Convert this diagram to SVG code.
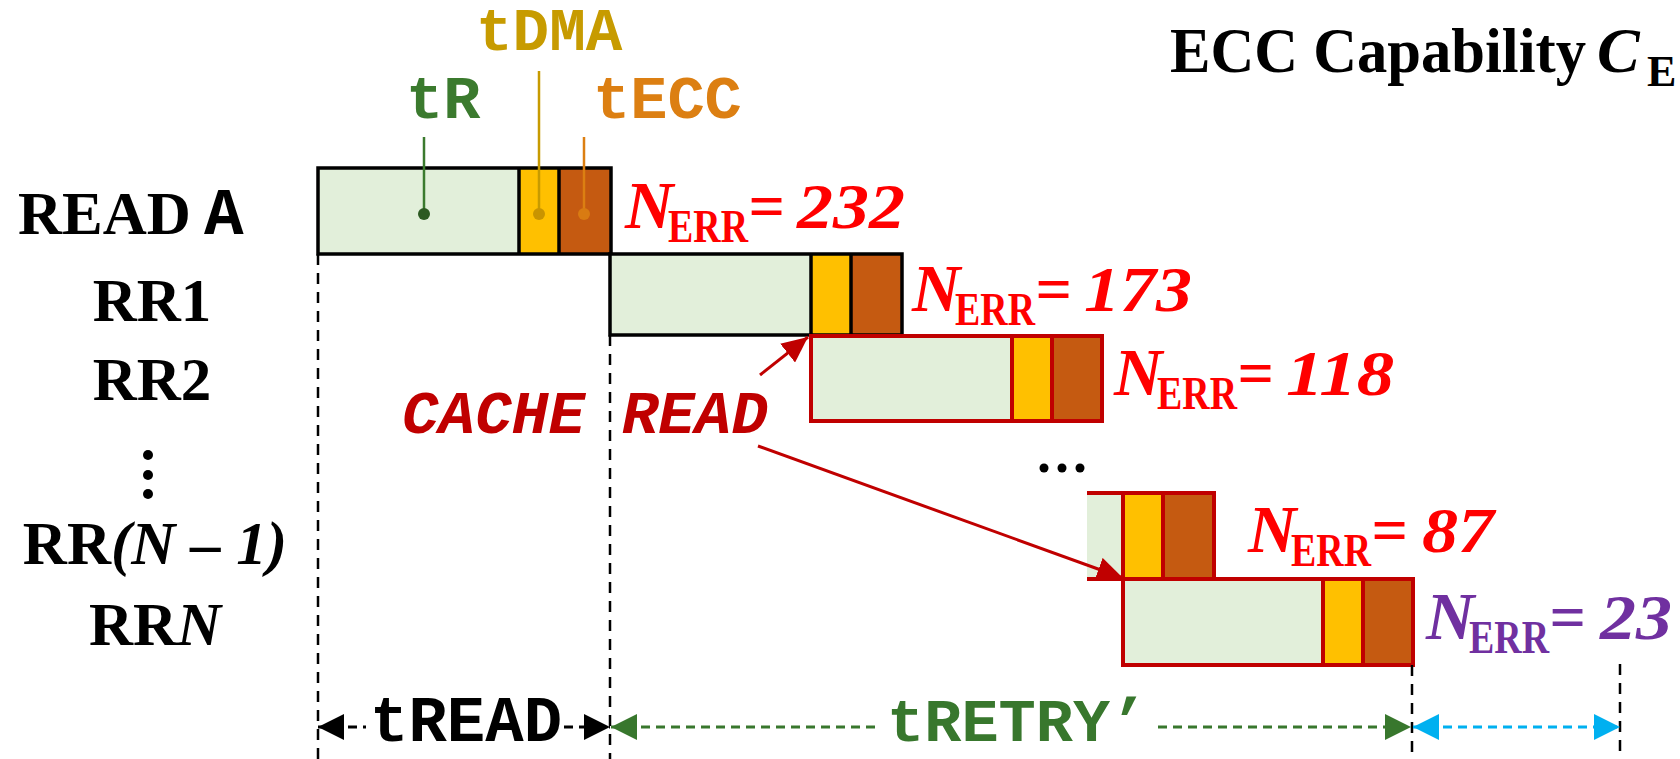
<svg xmlns="http://www.w3.org/2000/svg" width="1680" height="759" viewBox="0 0 1680 759">
  <defs>
    <style>
      .tr{fill:#E2EFDA}
      .dma{fill:#FFC000}
      .ecc{fill:#C55A11}
      .ok{fill:none;stroke:#000;stroke-width:3.5}
      .rr{fill:none;stroke:#C00000;stroke-width:4}
      .serif{font-family:"Liberation Serif","Times New Roman",serif;font-weight:bold}
      .mono{font-family:"Liberation Mono","Courier New",monospace;font-weight:bold}
      .row{font-size:61px;fill:#000}
      .nerr{font-size:64px}
      .nerr .n{font-size:67px;font-style:italic}
      .nerr .sub{font-size:46px;font-style:normal}
      .it{font-style:italic}
      .red{fill:#FF0000}
      .purple{fill:#7030A0}
      .vdash{fill:none;stroke:#000;stroke-width:2.5;stroke-dasharray:11 8}
      .dim{fill:none;stroke-width:3;stroke-dasharray:9 6}
      .lead{fill:none;stroke-width:2.5}
    </style>
    <marker id="hk" viewBox="0 0 26 26" refX="26" refY="13" markerWidth="26" markerHeight="26" markerUnits="userSpaceOnUse" orient="auto-start-reverse">
      <path d="M0,0 L26,13 L0,26 Z" fill="#000"/>
    </marker>
    <marker id="hg" viewBox="0 0 26 26" refX="26" refY="13" markerWidth="26" markerHeight="26" markerUnits="userSpaceOnUse" orient="auto-start-reverse">
      <path d="M0,0 L26,13 L0,26 Z" fill="#38772D"/>
    </marker>
    <marker id="hc" viewBox="0 0 26 26" refX="26" refY="13" markerWidth="26" markerHeight="26" markerUnits="userSpaceOnUse" orient="auto-start-reverse">
      <path d="M0,0 L26,13 L0,26 Z" fill="#00B0F0"/>
    </marker>
    <marker id="hr" viewBox="0 0 26 24" refX="26" refY="12" markerWidth="26" markerHeight="24" markerUnits="userSpaceOnUse" orient="auto">
      <path d="M0,0 L26,12 L0,24 Z" fill="#C00000"/>
    </marker>
  </defs>

  <rect x="0" y="0" width="1680" height="759" fill="#fff"/>

  <!-- title, running off the right edge -->
  <g id="title" class="serif" fill="#000">
    <text x="1170" y="72" font-size="64" textLength="416" lengthAdjust="spacingAndGlyphs">ECC Capability</text>
    <text class="it" x="1597" y="72" font-size="64">C</text>
    <text x="1647" y="86" font-size="44">E</text>
  </g>

  <!-- phase legend above the first read -->
  <g id="legend" class="mono">
    <text x="476" y="50" font-size="61" fill="#C79B00">tDMA</text>
    <text x="406" y="118" font-size="62" fill="#3B7A2E">tR</text>
    <text x="593" y="118" font-size="62" fill="#DC7F12">tECC</text>
  </g>

  <!-- row labels -->
  <g id="row-labels" class="serif row">
    <text x="18" y="234">READ</text>
    <text class="mono" x="204" y="234" font-size="66">A</text>
    <text x="152" y="321" text-anchor="middle">RR1</text>
    <text x="152" y="400" text-anchor="middle">RR2</text>
    <circle cx="148" cy="455" r="5"/>
    <circle cx="148" cy="475" r="5"/>
    <circle cx="148" cy="494" r="5"/>
    <text x="155" y="564" text-anchor="middle">RR<tspan class="it">(N – 1)</tspan></text>
    <text x="155" y="645" text-anchor="middle">RR<tspan class="it">N</tspan></text>
  </g>

  <!-- READ A -->
  <g id="read-a">
    <rect class="tr" x="318" y="168" width="201" height="86"/>
    <rect class="dma" x="519" y="168" width="40" height="86"/>
    <rect class="ecc" x="559" y="168" width="52" height="86"/>
    <rect class="ok" x="318" y="168" width="293" height="86"/>
    <path class="ok" d="M519,168 V254 M559,168 V254"/>
  </g>

  <!-- RR1 -->
  <g id="rr1">
    <rect class="tr" x="610" y="254" width="201" height="81"/>
    <rect class="dma" x="811" y="254" width="40" height="81"/>
    <rect class="ecc" x="851" y="254" width="51" height="81"/>
    <rect class="ok" x="610" y="254" width="292" height="81"/>
    <path class="ok" d="M811,254 V335 M851,254 V335"/>
  </g>

  <!-- RR2 -->
  <g id="rr2">
    <rect class="tr" x="811" y="336" width="201" height="85"/>
    <rect class="dma" x="1012" y="336" width="40" height="85"/>
    <rect class="ecc" x="1052" y="336" width="50" height="85"/>
    <rect class="rr" x="811" y="336" width="291" height="85"/>
    <path class="rr" d="M1012,336 V421 M1052,336 V421"/>
  </g>

  <!-- RR(N-1), partly shown -->
  <g id="rr-n-1">
    <rect class="tr" x="1087" y="493" width="36" height="86"/>
    <rect class="dma" x="1123" y="493" width="40" height="86"/>
    <rect class="ecc" x="1163" y="493" width="51" height="86"/>
    <path class="rr" d="M1087,493 H1214 V579 H1087 M1123,493 V579 M1163,493 V579"/>
  </g>

  <!-- RRN -->
  <g id="rr-n">
    <rect class="tr" x="1123" y="579" width="200" height="86"/>
    <rect class="dma" x="1323" y="579" width="40" height="86"/>
    <rect class="ecc" x="1363" y="579" width="50" height="86"/>
    <rect class="rr" x="1123" y="579" width="290" height="86"/>
    <path class="rr" d="M1323,579 V665 M1363,579 V665"/>
  </g>

  <!-- error counts -->
  <g id="nerr-labels" class="serif nerr">
    <text class="red"><tspan class="n" x="625" y="228">N</tspan><tspan class="sub" x="668" y="242" textLength="80" lengthAdjust="spacingAndGlyphs">ERR</tspan><tspan class="it" x="748" y="228">=</tspan><tspan class="it" x="797" y="228" textLength="108" lengthAdjust="spacingAndGlyphs">232</tspan></text>
    <text class="red"><tspan class="n" x="912" y="311">N</tspan><tspan class="sub" x="955" y="325" textLength="80" lengthAdjust="spacingAndGlyphs">ERR</tspan><tspan class="it" x="1035" y="311">=</tspan><tspan class="it" x="1084" y="311" textLength="108" lengthAdjust="spacingAndGlyphs">173</tspan></text>
    <text class="red"><tspan class="n" x="1114" y="395">N</tspan><tspan class="sub" x="1157" y="409" textLength="80" lengthAdjust="spacingAndGlyphs">ERR</tspan><tspan class="it" x="1237" y="395">=</tspan><tspan class="it" x="1286" y="395" textLength="108" lengthAdjust="spacingAndGlyphs">118</tspan></text>
    <text class="red"><tspan class="n" x="1248" y="552">N</tspan><tspan class="sub" x="1291" y="566" textLength="80" lengthAdjust="spacingAndGlyphs">ERR</tspan><tspan class="it" x="1371" y="552">=</tspan><tspan class="it" x="1422" y="552" textLength="72" lengthAdjust="spacingAndGlyphs">87</tspan></text>
    <text class="purple"><tspan class="n" x="1426" y="639">N</tspan><tspan class="sub" x="1469" y="653" textLength="80" lengthAdjust="spacingAndGlyphs">ERR</tspan><tspan class="it" x="1549" y="639">=</tspan><tspan class="it" x="1600" y="639" textLength="72" lengthAdjust="spacingAndGlyphs">23</tspan></text>
  </g>

  <!-- cache read note -->
  <text id="cache-read" class="mono it" x="402" y="433" font-size="61" fill="#C00000">CACHE READ</text>

  <!-- ellipsis between RR2 and RR(N-1) -->
  <g id="ellipsis" fill="#000">
    <circle cx="1044" cy="468" r="4.5"/>
    <circle cx="1062" cy="468" r="4.5"/>
    <circle cx="1080" cy="468" r="4.5"/>
  </g>

  <!-- time-span labels -->
  <g id="spans" class="mono">
    <text x="370" y="741" font-size="64" fill="#000">tREAD</text>
    <text x="887" y="741" font-size="62" fill="#38772D">tRETRY’</text>
  </g>

  <g id="connectors">
    <!-- legend leaders -->
    <path class="lead" stroke="#3B7A2E" d="M424,137 V214"/>
    <circle cx="424" cy="214" r="6" fill="#2D5A22"/>
    <path class="lead" stroke="#C79B00" d="M539,71 V214"/>
    <circle cx="539" cy="214" r="6" fill="#C99400"/>
    <path class="lead" stroke="#DC7F12" d="M584,137 V214"/>
    <circle cx="584" cy="214" r="6" fill="#D97B12"/>

    <!-- vertical guides -->
    <path class="vdash" d="M318,254 V759"/>
    <path class="vdash" d="M610,335 V759"/>
    <path class="vdash" d="M1412,665 V759"/>
    <path class="vdash" d="M1620,664 V759"/>

    <!-- dimension arrows -->
    <line class="dim" stroke="#000" x1="318" y1="727" x2="366" y2="727" marker-start="url(#hk)"/>
    <line class="dim" stroke="#000" x1="564" y1="727" x2="610" y2="727" marker-end="url(#hk)"/>
    <line class="dim" stroke="#38772D" x1="611" y1="727" x2="880" y2="727" marker-start="url(#hg)"/>
    <line class="dim" stroke="#38772D" x1="1158" y1="727" x2="1411" y2="727" marker-end="url(#hg)"/>
    <line class="dim" stroke="#00B0F0" x1="1413" y1="727" x2="1620" y2="727" marker-start="url(#hc)" marker-end="url(#hc)"/>

    <!-- cache read pointers -->
    <line stroke="#C00000" stroke-width="3" x1="760" y1="375" x2="808" y2="337" marker-end="url(#hr)"/>
    <line stroke="#C00000" stroke-width="3" x1="758" y1="446" x2="1123" y2="578" marker-end="url(#hr)"/>
  </g>
</svg>
